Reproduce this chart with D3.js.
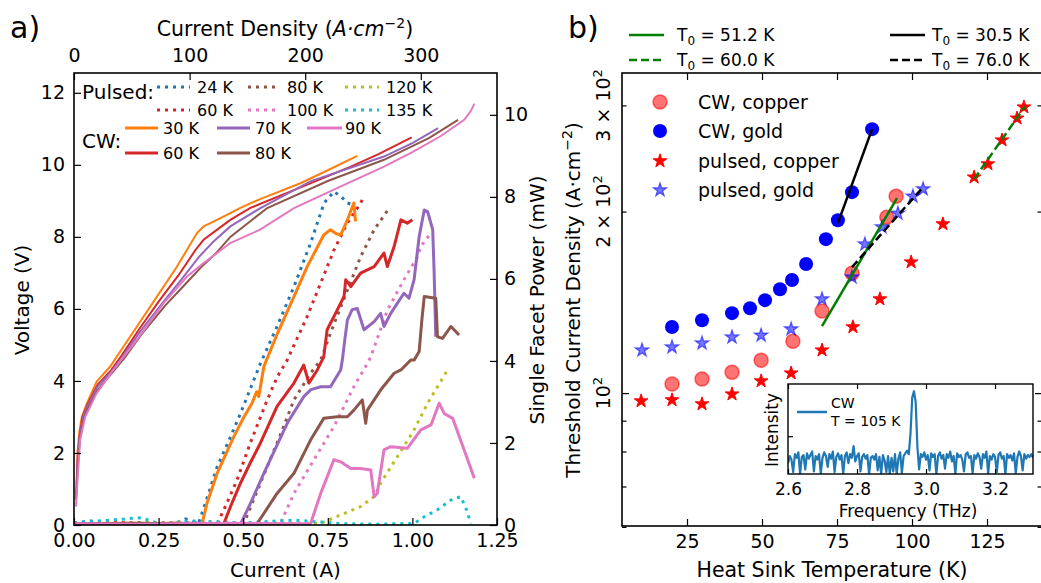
<!DOCTYPE html>
<meta charset="utf-8">
<head>
<title>QCL threshold and LIV</title>
<script src="https://cdn.jsdelivr.net/npm/d3@7"></script>
<style>
  body { margin: 0; background: #fff; }
  svg { font-family: "DejaVu Sans", sans-serif; }
</style>
</head>
<body>
<svg width="1041" height="583"></svg>
<script>
// ---------- panel a) data : [current (A), value] ----------
var pulsedLabels = ["24 K", "60 K", "80 K", "100 K", "120 K", "135 K"];
var pulsedColors = ["#1f77b4", "#d62728", "#8c564b", "#e377c2", "#bcbd22", "#17becf"];
var cwLabels = ["30 K", "60 K", "70 K", "80 K", "90 K"];
var cwColors = ["#ff7f0e", "#d62728", "#9467bd", "#8c564b", "#e377c2"];

// voltage (V) of CW curves
var volt30 = [[0.008,1.16],[0.01,2.0],[0.016,2.6],[0.023,3.0],[0.038,3.38],[0.067,3.98],[0.107,4.4],[0.136,4.81],[0.186,5.51],[0.245,6.34],[0.304,7.17],[0.363,8.1],[0.383,8.29],[0.403,8.38],[0.462,8.66],[0.49,8.8],[0.55,9.05],[0.669,9.49],[0.75,9.85],[0.837,10.25]];
var volt60 = [[0.008,0.9],[0.01,1.7],[0.016,2.45],[0.025,3.0],[0.04,3.35],[0.07,3.9],[0.11,4.3],[0.14,4.7],[0.19,5.4],[0.25,6.2],[0.31,6.95],[0.36,7.65],[0.383,7.92],[0.43,8.25],[0.462,8.47],[0.52,8.8],[0.65,9.3],[0.818,9.95],[0.9,10.3],[0.998,10.76]];
var volt70 = [[0.006,0.78],[0.01,1.6],[0.016,2.4],[0.027,3.0],[0.04,3.3],[0.07,3.85],[0.11,4.25],[0.14,4.62],[0.19,5.3],[0.26,6.15],[0.32,6.85],[0.37,7.45],[0.41,7.85],[0.462,8.29],[0.551,8.8],[0.7,9.55],[0.916,10.23],[1.0,10.6],[1.076,11.02]];
var volt80 = [[0.006,0.7],[0.01,1.5],[0.017,2.35],[0.03,3.0],[0.045,3.3],[0.07,3.75],[0.115,4.25],[0.15,4.65],[0.2,5.3],[0.27,6.1],[0.33,6.7],[0.38,7.2],[0.42,7.55],[0.462,8.0],[0.571,8.8],[0.75,9.55],[0.916,10.14],[1.05,10.75],[1.135,11.25]];
var volt90 = [[0.006,0.51],[0.01,1.16],[0.018,2.36],[0.033,3.0],[0.067,3.66],[0.116,4.3],[0.186,5.14],[0.265,6.16],[0.334,6.9],[0.383,7.27],[0.462,7.83],[0.55,8.2],[0.65,8.8],[0.8,9.45],[0.916,9.95],[1.0,10.35],[1.084,10.8],[1.153,11.25],[1.173,11.5],[1.183,11.7]];

// single facet power (mW), pulsed
var powP24 = [[0,0.05],[0.05,0.1],[0.1,0.03],[0.2,0.06],[0.3,0.04],[0.33,0.15],[0.35,0.08],[0.368,0.04],[0.395,0.7],[0.423,1.42],[0.46,2.1],[0.492,2.72],[0.52,3.3],[0.551,3.94],[0.6,4.84],[0.65,5.81],[0.699,6.87],[0.739,7.85],[0.768,8.13],[0.79,8.0],[0.808,7.85],[0.827,7.8]];
var powP60 = [[0,0.03],[0.1,0.1],[0.15,0.05],[0.25,0.03],[0.35,0.06],[0.423,0.03],[0.45,0.5],[0.482,1.1],[0.521,2.0],[0.571,3.05],[0.6,3.6],[0.63,4.02],[0.689,5.08],[0.729,5.9],[0.768,6.7],[0.808,7.36],[0.847,7.85],[0.852,7.93]];
var powP80 = [[0,0.04],[0.12,0.02],[0.25,0.05],[0.4,0.03],[0.502,0.04],[0.53,0.6],[0.571,1.42],[0.61,2.2],[0.65,3.05],[0.699,3.7],[0.729,4.02],[0.758,4.68],[0.808,5.73],[0.847,6.54],[0.887,7.2],[0.931,7.72]];
var powP100 = [[0,0.05],[0.15,0.03],[0.3,0.06],[0.45,0.04],[0.61,0.04],[0.65,0.77],[0.709,1.59],[0.768,2.4],[0.827,3.37],[0.867,3.94],[0.877,4.1],[0.926,5.24],[0.975,5.98],[1.015,6.54],[1.025,6.79],[1.05,7.07]];
var powP120 = [[0,0.03],[0.2,0.05],[0.4,0.02],[0.6,0.04],[0.729,0.04],[0.798,0.28],[0.847,0.45],[0.887,0.69],[0.906,1.02],[0.956,1.67],[1.005,2.32],[1.045,2.97],[1.104,3.78]];
var powP135 = [[0,0.05],[0.2,0.18],[0.25,0.03],[0.35,0.1],[0.5,0.05],[0.65,0.12],[0.8,0.03],[0.9,0.02],[1.005,0.04],[1.035,0.2],[1.074,0.37],[1.114,0.61],[1.143,0.69],[1.158,0.41],[1.173,0.04]];

// single facet power (mW), CW
var powC30 = [[0,0.02],[0.1,0.04],[0.2,0.02],[0.3,0.05],[0.378,0.02],[0.393,0.53],[0.423,1.26],[0.45,1.75],[0.472,2.15],[0.5,2.6],[0.526,2.97],[0.54,3.25],[0.546,3.13],[0.561,3.86],[0.6,4.65],[0.65,5.57],[0.689,6.3],[0.738,7.07],[0.758,7.2],[0.775,7.1],[0.788,7.07],[0.808,7.44],[0.827,7.85],[0.832,7.4]];
var powC60 = [[0,0.02],[0.15,0.04],[0.3,0.03],[0.442,0.02],[0.465,0.5],[0.492,1.02],[0.52,1.5],[0.551,2.0],[0.6,2.89],[0.65,3.46],[0.679,3.9],[0.694,3.46],[0.719,3.78],[0.738,4.1],[0.748,4.76],[0.768,5.08],[0.798,5.57],[0.803,5.98],[0.818,5.81],[0.847,6.14],[0.887,6.3],[0.916,6.63],[0.926,6.3],[0.946,6.79],[0.966,7.44],[0.985,7.36],[1.0,7.44]];
var powC70 = [[0,0.03],[0.2,0.02],[0.35,0.04],[0.492,0.02],[0.52,0.5],[0.561,1.26],[0.6,1.95],[0.63,2.48],[0.679,3.13],[0.7,3.3],[0.729,3.37],[0.758,3.37],[0.788,3.78],[0.793,4.02],[0.8,4.5],[0.808,5.0],[0.822,5.25],[0.837,5.28],[0.857,4.76],[0.887,4.96],[0.906,5.16],[0.916,4.84],[0.936,5.16],[0.975,5.65],[0.99,5.53],[1.005,5.98],[1.02,7.03],[1.035,7.68],[1.045,7.64],[1.06,7.2],[1.064,6.22],[1.069,4.59]];
var powC80 = [[0,0.02],[0.2,0.04],[0.4,0.02],[0.541,0.03],[0.6,0.77],[0.65,1.26],[0.699,2.07],[0.738,2.6],[0.778,2.64],[0.808,2.64],[0.827,2.8],[0.852,3.05],[0.862,2.48],[0.867,2.8],[0.906,3.29],[0.946,3.7],[0.966,3.78],[0.995,4.02],[1.005,4.02],[1.02,4.23],[1.028,5.0],[1.035,5.57],[1.069,5.53],[1.074,4.59],[1.089,4.55],[1.114,4.84],[1.138,4.63]];
var powC90 = [[0,0.03],[0.2,0.02],[0.45,0.04],[0.699,0.03],[0.729,0.77],[0.768,1.59],[0.788,1.54],[0.818,1.38],[0.847,1.38],[0.877,1.34],[0.887,0.69],[0.896,0.77],[0.916,1.83],[0.936,1.91],[0.985,1.87],[1.025,2.32],[1.055,2.44],[1.079,2.97],[1.094,2.72],[1.119,2.6],[1.153,1.83],[1.183,1.14]];

var voltCurves = [volt30, volt60, volt70, volt80, volt90];
var pulsedCurves = [powP24, powP60, powP80, powP100, powP120, powP135];
var cwCurves = [powC30, powC60, powC70, powC80, powC90];

// ---------- panel b) data : heat sink temperature (K), threshold J (A/cm2) ----------
var cwCopperT = [20, 30, 40, 49.7, 60.3, 70, 80, 91.6, 94.7];
var cwCopperJ = [103.5, 105.5, 108.3, 113.4, 121.9, 136.8, 158, 195.8, 212];
var cwGoldT = [20, 30, 40, 46, 51, 56, 60, 64.7, 71.3, 75.3, 80, 86.7];
var cwGoldJ = [128.7, 132.1, 135.7, 138.3, 142.6, 148.7, 154, 163.7, 180, 193.5, 215.4, 274];
var pulsedCopperT = [9.7, 20, 30, 40, 49.7, 59.7, 70, 80.3, 89.3, 99.7, 110.3, 120.7, 125.3, 130, 135, 137.3];
var pulsedCopperJ = [97, 97.4, 95.9, 99.6, 104.7, 107.9, 117.8, 128.7, 143.2, 164.9, 190.7, 228, 239.8, 262.7, 285.6, 298];
var pulsedGoldT = [10, 20, 30, 40, 49.7, 59.7, 70, 80, 84.3, 90, 95.3, 100.3, 103.7];
var pulsedGoldJ = [117.8, 119.2, 121, 123.8, 124.7, 127.7, 143.2, 155.7, 176.6, 188.5, 198.6, 212, 218];

// exponential fits, end points [T, J]
var fitCwCopper = [[70, 129.1], [95, 210.5]];
var fitPulsedCopper = [[120.7, 226.4], [137.7, 299]];
var fitCwGold = [[75.3, 191.4], [86.7, 274]];
var fitPulsedGold = [[80, 161.8], [103.7, 219.6]];
var fitT0 = ["51.2", "60.0", "30.5", "76.0"];

// inset spectrum, CW at 105 K, sampled every 5 GHz from 2.6 THz
var specStart = 2.6, specStep = 0.005;
var specInt = [0.12,0.20,0.16,0.02,0.22,0.18,0.24,0.00,0.19,0.21,
               0.05,0.23,0.17,0.21,0.25,0.03,0.20,0.16,0.22,0.00,
               0.18,0.24,0.20,0.08,0.22,0.17,0.25,0.02,0.19,0.23,
               0.16,0.21,0.00,0.20,0.24,0.12,0.22,0.18,0.31,0.14,
               0.20,0.23,0.03,0.19,0.22,0.17,0.21,0.00,0.18,0.20,
               0.16,0.22,0.04,0.19,0.00,0.21,0.15,0.02,0.20,0.00,
               0.18,0.03,0.22,0.00,0.17,0.24,0.01,0.20,0.23,0.26,
               0.22,0.45,0.85,0.92,0.80,0.30,0.05,0.22,0.19,0.24,
               0.16,0.21,0.04,0.23,0.19,0.22,0.00,0.20,0.24,0.17,
               0.21,0.06,0.22,0.18,0.25,0.14,0.20,0.00,0.23,0.19,
               0.21,0.16,0.03,0.22,0.24,0.18,0.20,0.01,0.21,0.17,
               0.23,0.19,0.06,0.22,0.18,0.25,0.00,0.20,0.16,0.22,
               0.19,0.02,0.21,0.24,0.17,0.20,0.00,0.22,0.18,0.21,
               0.15,0.23,0.01,0.19,0.25,0.20,0.04,0.22,0.17,0.21,
               0.19,0.22,0.18];
var specFreq = specInt.map(function(v, i) { return specStart + i * specStep; });

var svg = d3.select("svg");
var TICK = 19;

function styleAxis(g, size) {
  g.select(".domain").remove();
  g.selectAll("line").attr("stroke", "#000").attr("stroke-width", 1.2);
  g.selectAll("text").attr("font-size", size || TICK).attr("font-family", "DejaVu Sans").attr("fill", "#000");
}

// ================= panel a =================
var A = {left: 74, right: 497, top: 73, bottom: 525};
var x1 = d3.scaleLinear().domain([0, 1.25]).range([A.left, A.right]);
var xTop = d3.scaleLinear().domain([0, 1.25 / 0.003416]).range([A.left, A.right]);
var yV = d3.scaleLinear().domain([0, 12.55]).range([A.bottom, A.top]);
var yP = d3.scaleLinear().domain([0, 11.02]).range([A.bottom, A.top]);

svg.append("clipPath").attr("id", "clipA").append("rect")
  .attr("x", A.left).attr("y", A.top).attr("width", A.right - A.left).attr("height", A.bottom - A.top);

var gA = svg.append("g").attr("clip-path", "url(#clipA)");
var lineV = d3.line().x(function(d) { return x1(d[0]); }).y(function(d) { return yV(d[1]); });
var lineP = d3.line().x(function(d) { return x1(d[0]); }).y(function(d) { return yP(d[1]); });

gA.selectAll(".volt").data(voltCurves).enter().append("path")
  .attr("d", lineV).attr("fill", "none").attr("stroke-width", 2)
  .attr("stroke", function(d, i) { return cwColors[i]; });

gA.selectAll(".pulsed").data(pulsedCurves).enter().append("path")
  .attr("d", lineP).attr("fill", "none").attr("stroke-width", 3).attr("stroke-dasharray", "3,5")
  .attr("stroke", function(d, i) { return pulsedColors[i]; });

gA.selectAll(".cw").data(cwCurves).enter().append("path")
  .attr("d", lineP).attr("fill", "none").attr("stroke-width", 3).attr("stroke-linejoin", "round")
  .attr("stroke", function(d, i) { return cwColors[i]; });

svg.append("g").attr("transform", "translate(0," + A.bottom + ")")
  .call(d3.axisBottom(x1).tickValues([0, 0.25, 0.5, 0.75, 1, 1.25]).tickFormat(d3.format(".2f"))
    .tickSizeInner(-7).tickSizeOuter(0).tickPadding(9)).call(styleAxis);
svg.append("g").attr("transform", "translate(0," + A.top + ")")
  .call(d3.axisTop(xTop).tickValues([0, 100, 200, 300]).tickSizeInner(-7).tickSizeOuter(0).tickPadding(11))
  .call(styleAxis);
svg.append("g").attr("transform", "translate(" + A.left + ",0)")
  .call(d3.axisLeft(yV).tickValues([0, 2, 4, 6, 8, 10, 12]).tickSizeInner(-7).tickSizeOuter(0).tickPadding(9))
  .call(styleAxis);
svg.append("g").attr("transform", "translate(" + A.right + ",0)")
  .call(d3.axisRight(yP).tickValues([0, 2, 4, 6, 8, 10]).tickSizeInner(-7).tickSizeOuter(0).tickPadding(7))
  .call(styleAxis);

svg.append("rect").attr("x", A.left).attr("y", A.top).attr("width", A.right - A.left).attr("height", A.bottom - A.top)
  .attr("fill", "none").attr("stroke", "#000").attr("stroke-width", 1.6);

// labels panel a
svg.append("text").attr("x", 10).attr("y", 38).attr("font-size", 30).text("a)");
var topLab = svg.append("text").attr("x", 285).attr("y", 36).attr("font-size", 20.5).attr("text-anchor", "middle");
topLab.append("tspan").text("Current Density (");
topLab.append("tspan").attr("font-style", "italic").text("A\u00b7cm");
topLab.append("tspan").attr("font-size", 14).attr("dy", -8).text("\u22122");
topLab.append("tspan").attr("dy", 8).text(")");
svg.append("text").attr("x", 285.5).attr("y", 577).attr("font-size", 20).attr("text-anchor", "middle").text("Current (A)");
svg.append("text").attr("transform", "translate(29,300) rotate(-90)").attr("font-size", 20)
  .attr("text-anchor", "middle").text("Voltage (V)");
svg.append("text").attr("transform", "translate(544,300) rotate(-90)").attr("font-size", 20)
  .attr("text-anchor", "middle").text("Single Facet Power (mW)");

// legend panel a
var legA = svg.append("g");
legA.append("text").attr("x", 82).attr("y", 99).attr("font-size", 20).text("Pulsed:");
legA.append("text").attr("x", 82).attr("y", 148).attr("font-size", 20).text("CW:");
var pCols = [[157, 190, 197], [248, 280, 287], [345, 379, 386]];
pulsedLabels.forEach(function(lab, i) {
  var c = pCols[Math.floor(i / 2)], y = i % 2 === 0 ? 87 : 110;
  legA.append("line").attr("x1", c[0]).attr("x2", c[1]).attr("y1", y).attr("y2", y)
    .attr("stroke", pulsedColors[i]).attr("stroke-width", 3).attr("stroke-dasharray", "3,5");
  legA.append("text").attr("x", c[2]).attr("y", y + 6).attr("font-size", 16).text(lab);
});
var cCols = [[125, 158, 163], [217, 250, 255], [307, 342, 345]];
cwLabels.forEach(function(lab, i) {
  var c = cCols[Math.floor(i / 2)], y = i % 2 === 0 ? 128 : 153;
  legA.append("line").attr("x1", c[0]).attr("x2", c[1]).attr("y1", y).attr("y2", y)
    .attr("stroke", cwColors[i]).attr("stroke-width", 3);
  legA.append("text").attr("x", c[2]).attr("y", y + 6).attr("font-size", 16).text(lab);
});

// ================= panel b =================
var B = {left: 622, right: 1042, top: 73, bottom: 526};
var xR = d3.scaleLinear().domain([3.33, 143.33]).range([B.left, B.right]);
var yR = d3.scaleLog().domain([60.2, 339.5]).range([B.bottom, B.top]);

function pts(T, J) { return T.map(function(t, i) { return [t, J[i]]; }); }
var star = d3.symbol().type(d3.symbolStar).size(58);

var gB = svg.append("g");
gB.selectAll(".cwc").data(pts(cwCopperT, cwCopperJ)).enter().append("circle")
  .attr("cx", function(d) { return xR(d[0]); }).attr("cy", function(d) { return yR(d[1]); }).attr("r", 7)
  .attr("fill", "red").attr("fill-opacity", 0.55).attr("stroke", "red").attr("stroke-opacity", 0.55).attr("stroke-width", 1.5);
gB.selectAll(".cwg").data(pts(cwGoldT, cwGoldJ)).enter().append("circle")
  .attr("cx", function(d) { return xR(d[0]); }).attr("cy", function(d) { return yR(d[1]); }).attr("r", 7)
  .attr("fill", "blue");
gB.selectAll(".pc").data(pts(pulsedCopperT, pulsedCopperJ)).enter().append("path")
  .attr("d", star).attr("transform", function(d) { return "translate(" + xR(d[0]) + "," + yR(d[1]) + ")"; })
  .attr("fill", "red").attr("stroke", "red").attr("stroke-width", 1);
gB.selectAll(".pg").data(pts(pulsedGoldT, pulsedGoldJ)).enter().append("path")
  .attr("d", star).attr("transform", function(d) { return "translate(" + xR(d[0]) + "," + yR(d[1]) + ")"; })
  .attr("fill", "blue").attr("fill-opacity", 0.55).attr("stroke", "blue").attr("stroke-opacity", 0.55).attr("stroke-width", 1.2);

var lineF = d3.line().x(function(d) { return xR(d[0]); }).y(function(d) { return yR(d[1]); });
var fits = [[fitCwCopper, "green", null], [fitPulsedCopper, "green", "8,4"], [fitCwGold, "#000", null], [fitPulsedGold, "#000", "8,4"]];
fits.forEach(function(f) {
  gB.append("path").datum(f[0]).attr("d", lineF).attr("fill", "none").attr("stroke", f[1])
    .attr("stroke-width", 2.5).attr("stroke-dasharray", f[2]);
});

// axes panel b
var xTicksB = [25, 50, 75, 100, 125];
svg.append("g").attr("transform", "translate(0," + B.bottom + ")")
  .call(d3.axisBottom(xR).tickValues(xTicksB).tickSizeInner(-7).tickSizeOuter(0).tickPadding(9)).call(styleAxis);
svg.append("g").attr("transform", "translate(0," + B.top + ")")
  .call(d3.axisTop(xR).tickValues(xTicksB).tickFormat("").tickSizeInner(-7).tickSizeOuter(0)).call(styleAxis);
[[B.left, d3.axisLeft], [B.right, d3.axisRight]].forEach(function(s) {
  svg.append("g").attr("transform", "translate(" + s[0] + ",0)")
    .call(s[1](yR).tickValues([100]).tickFormat("").tickSizeInner(-7).tickSizeOuter(0)).call(styleAxis);
  svg.append("g").attr("transform", "translate(" + s[0] + ",0)")
    .call(s[1](yR).tickValues([60, 70, 80, 90, 200, 300]).tickFormat("").tickSizeInner(-4.5).tickSizeOuter(0)).call(styleAxis);
});
svg.append("rect").attr("x", B.left).attr("y", B.top).attr("width", B.right - B.left).attr("height", B.bottom - B.top)
  .attr("fill", "none").attr("stroke", "#000").attr("stroke-width", 1.6);

// rotated log tick labels
[[100, ""], [200, "2 \u00d7 "], [300, "3 \u00d7 "]].forEach(function(t) {
  var tx = svg.append("text").attr("transform", "translate(610," + yR(t[0]) + ") rotate(-90)")
    .attr("font-size", TICK).attr("text-anchor", "middle");
  tx.append("tspan").text(t[1] + "10");
  tx.append("tspan").attr("font-size", 13).attr("dy", -8).text("2");
});

svg.append("text").attr("x", 568).attr("y", 38).attr("font-size", 30).text("b)");
svg.append("text").attr("x", 832).attr("y", 577).attr("font-size", 20.5).attr("text-anchor", "middle").text("Heat Sink Temperature (K)");
var yLabB = svg.append("text").attr("transform", "translate(580,300) rotate(-90)").attr("font-size", 20).attr("text-anchor", "middle");
yLabB.append("tspan").text("Threshold Current Density (A\u00b7cm");
yLabB.append("tspan").attr("font-size", 14).attr("dy", -8).text("\u22122");
yLabB.append("tspan").attr("dy", 8).text(")");

// marker legend
var legB = svg.append("g");
var legRows = [102, 131, 161, 190];
var legNames = ["CW, copper", "CW, gold", "pulsed, copper", "pulsed, gold"];
legB.append("circle").attr("cx", 660).attr("cy", legRows[0]).attr("r", 7)
  .attr("fill", "red").attr("fill-opacity", 0.55).attr("stroke", "red").attr("stroke-opacity", 0.55).attr("stroke-width", 1.5);
legB.append("circle").attr("cx", 660).attr("cy", legRows[1]).attr("r", 7).attr("fill", "blue");
legB.append("path").attr("d", star).attr("transform", "translate(660," + legRows[2] + ")")
  .attr("fill", "red").attr("stroke", "red");
legB.append("path").attr("d", star).attr("transform", "translate(660," + legRows[3] + ")")
  .attr("fill", "blue").attr("fill-opacity", 0.55).attr("stroke", "blue").attr("stroke-opacity", 0.55).attr("stroke-width", 1.2);
legNames.forEach(function(n, i) {
  legB.append("text").attr("x", 698).attr("y", legRows[i] + 7).attr("font-size", 19).text(n);
});

// fit legend above panel b
var fitLeg = [[629, 664, 677, 35, "green", null, fitT0[0]], [629, 664, 677, 60, "green", "8,4", fitT0[1]],
              [890, 925, 932, 35, "#000", null, fitT0[2]], [890, 925, 932, 60, "#000", "8,4", fitT0[3]]];
fitLeg.forEach(function(f) {
  svg.append("line").attr("x1", f[0]).attr("x2", f[1]).attr("y1", f[3]).attr("y2", f[3])
    .attr("stroke", f[4]).attr("stroke-width", 2.5).attr("stroke-dasharray", f[5]);
  var t = svg.append("text").attr("x", f[2]).attr("y", f[3] + 6).attr("font-size", 17);
  t.append("tspan").text("T");
  t.append("tspan").attr("font-size", 12).attr("dy", 4).text("0");
  t.append("tspan").attr("dy", -4).text(" = " + f[6] + " K");
});

// ================= inset =================
var I = {left: 788, right: 1033, top: 384, bottom: 474};
var xI = d3.scaleLinear().domain([2.6, 3.31]).range([I.left, I.right]);
var yI = d3.scaleLinear().domain([0, 1]).range([I.bottom, I.top]);
svg.append("rect").attr("x", I.left).attr("y", I.top).attr("width", I.right - I.left).attr("height", I.bottom - I.top)
  .attr("fill", "#fff");
svg.append("clipPath").attr("id", "clipI").append("rect")
  .attr("x", I.left).attr("y", I.top).attr("width", I.right - I.left).attr("height", I.bottom - I.top);
svg.append("path").datum(pts(specFreq, specInt)).attr("clip-path", "url(#clipI)")
  .attr("d", d3.line().x(function(d) { return xI(d[0]); }).y(function(d) { return yI(d[1]); }))
  .attr("fill", "none").attr("stroke", "#1f77b4").attr("stroke-width", 2.2).attr("stroke-linejoin", "round");
var xTicksI = [2.6, 2.8, 3.0, 3.2];
svg.append("g").attr("transform", "translate(0," + I.bottom + ")")
  .call(d3.axisBottom(xI).tickValues(xTicksI).tickFormat(d3.format(".1f")).tickSizeInner(-5).tickSizeOuter(0).tickPadding(9))
  .call(styleAxis, 17);
svg.append("g").attr("transform", "translate(0," + I.top + ")")
  .call(d3.axisTop(xI).tickValues(xTicksI).tickFormat("").tickSizeInner(-5).tickSizeOuter(0)).call(styleAxis);
svg.append("g").attr("transform", "translate(" + I.left + ",0)")
  .call(d3.axisLeft(yI).tickValues([0.42]).tickFormat("").tickSizeInner(-5).tickSizeOuter(0)).call(styleAxis);
svg.append("rect").attr("x", I.left).attr("y", I.top).attr("width", I.right - I.left).attr("height", I.bottom - I.top)
  .attr("fill", "none").attr("stroke", "#000").attr("stroke-width", 1.4);
svg.append("text").attr("x", 908).attr("y", 517).attr("font-size", 17).attr("text-anchor", "middle").text("Frequency (THz)");
svg.append("text").attr("transform", "translate(778,430) rotate(-90)").attr("font-size", 17)
  .attr("text-anchor", "middle").text("Intensity");
svg.append("line").attr("x1", 797).attr("x2", 827).attr("y1", 412).attr("y2", 412)
  .attr("stroke", "#1f77b4").attr("stroke-width", 2.5);
svg.append("text").attr("x", 831).attr("y", 408).attr("font-size", 14).text("CW");
svg.append("text").attr("x", 831).attr("y", 426).attr("font-size", 14).text("T = 105 K");
</script>
</body>
